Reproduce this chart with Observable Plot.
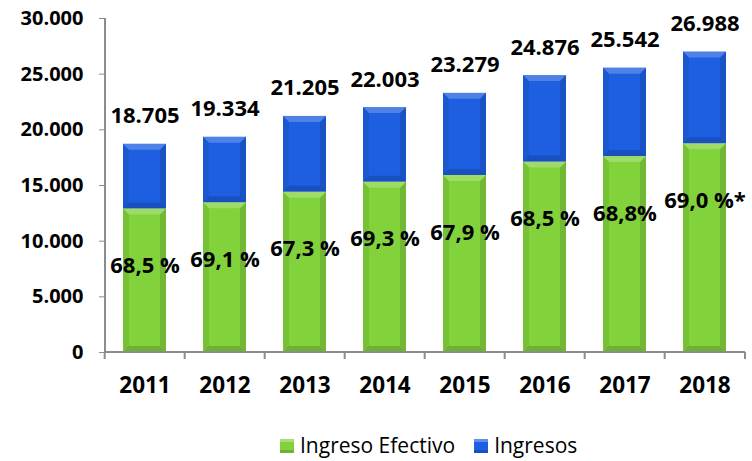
<!DOCTYPE html>
<html>
<head>
<meta charset="utf-8">
<script src="https://cdn.jsdelivr.net/npm/d3@7"></script>
<script src="https://cdn.jsdelivr.net/npm/@observablehq/plot@0.6"></script>
<style>
  html, body { margin: 0; padding: 0; background: #fff; }
  #wrap { width: 752px; height: 461px; position: relative; font-family: "Open Sans", sans-serif; }
  #legend { position: absolute; left: 280px; top: 431px; height: 29px; display: flex; align-items: center; font-size: 21px; color: #000; line-height: 29px; white-space: nowrap; }
  .sw { width: 14px; height: 14px; display: inline-block; margin-right: 6px; }
  .item { display: flex; align-items: center; margin-right: 19px; }
</style>
</head>
<body>
<div id="wrap"></div>
<script>
const years = ["2011", "2012", "2013", "2014", "2015", "2016", "2017", "2018"];
const ingresos = [18705, 19334, 21205, 22003, 23279, 24876, 25542, 26988];
const efectivo = [12900, 13450, 14400, 15300, 15900, 17100, 17600, 18750];
const pctLabels = ["68,5 %", "69,1 %", "67,3 %", "69,3 %", "67,9 %", "68,5 %", "68,8%", "69,0 %*"];
const yTicks = [0, 5000, 10000, 15000, 20000, 25000, 30000];
const seriesNames = ["Ingreso Efectivo", "Ingresos"];
const seriesColors = ["#82d23c", "#1e5fe1"];

const loc = d3.formatLocale({decimal: ",", thousands: ".", grouping: [3], currency: ["", ""]});
const fmt = loc.format(",d");

const rows = years.map((y, i) => ({year: y, total: ingresos[i], ef: efectivo[i], pct: pctLabels[i]}));

const FONT = "Open Sans, sans-serif";
const plot = Plot.plot({
  width: 752,
  height: 420,
  marginLeft: 105,
  marginRight: 7,
  marginTop: 18,
  marginBottom: 68,
  style: {fontFamily: FONT, color: "#000", background: "#fff", overflow: "visible", display: "block"},
  x: {type: "band", domain: years, paddingInner: 0.46, paddingOuter: 0.23, label: null},
  y: {domain: [0, 30000], label: null},
  marks: [
    Plot.barY(rows, {x: "year", y1: 0, y2: "ef", fill: seriesColors[0]}),
    Plot.barY(rows, {x: "year", y1: "ef", y2: "total", fill: seriesColors[1]}),
    Plot.axisY({ticks: yTicks, tickSize: 6, tickPadding: 16, tickFormat: fmt, fontSize: 20, fontWeight: "bold", stroke: "#8c8c8c", label: null}),
    Plot.axisX({tickSize: 0, tickPadding: 25, fontSize: 22.5, fontWeight: "bold", label: null}),
    Plot.text(rows, {x: "year", y: "total", text: d => fmt(d.total), dy: -28, fontSize: 22, fontWeight: "bold", fill: "#000"}),
    Plot.text(rows, {x: "year", y: "ef", text: "pct", dy: 57, fontSize: 22, fontWeight: "bold", fill: "#000"})
  ]
});

const svg = d3.select(plot);
const xs = plot.scale("x");
const ys = plot.scale("y");
const bw = xs.bandwidth;
const step = bw / (1 - 0.46);
const x0 = xs.range[0], x1 = xs.range[1];
const yb = ys.apply(0), yt = ys.apply(30000);

// bevel overlays on bars
svg.selectAll('g[aria-label="bar"] rect').each(function() {
  const r = d3.select(this);
  const x = +r.attr("x"), y = +r.attr("y"), w = +r.attr("width"), h = +r.attr("height");
  const b = Math.min(6, h / 2);
  const g = d3.select(this.parentNode);
  const poly = (pts, fill, op) => g.append("polygon").attr("points", pts.map(p => p.join(",")).join(" ")).attr("fill", fill).attr("fill-opacity", op);
  poly([[x, y], [x + w, y], [x + w - b, y + b], [x + b, y + b]], "#fff", 0.22);
  poly([[x, y + h], [x + w, y + h], [x + w - b, y + h - b], [x + b, y + h - b]], "#000", 0.15);
  poly([[x, y], [x + b, y + b], [x + b, y + h - b], [x, y + h]], "#000", 0.08);
  poly([[x + w, y], [x + w - b, y + b], [x + w - b, y + h - b], [x + w, y + h]], "#000", 0.12);
});

// axis lines
const axes = svg.append("g").attr("stroke", "#8c8c8c").attr("stroke-width", 2);
axes.append("line").attr("x1", x0).attr("x2", x0).attr("y1", yt).attr("y2", yb);
axes.append("line").attr("x1", x0).attr("x2", x1).attr("y1", yb).attr("y2", yb);
years.forEach((yr, i) => {
  const bx = xs.apply(yr) + bw / 2 - step / 2;
  axes.append("line").attr("x1", bx).attr("x2", bx).attr("y1", yb).attr("y2", yb + 7);
});
axes.append("line").attr("x1", x1).attr("x2", x1).attr("y1", yb).attr("y2", yb + 7);

const wrap = document.getElementById("wrap");
wrap.appendChild(plot);

const legend = document.createElement("div");
legend.id = "legend";
seriesNames.forEach((n, i) => {
  const it = document.createElement("div");
  it.className = "item";
  const sw = document.createElement("span");
  sw.className = "sw";
  sw.style.background = seriesColors[i];
  sw.style.boxShadow = "inset 0 3px 0 rgba(255,255,255,0.3), inset 0 -3px 0 rgba(0,0,0,0.15)";
  const t = document.createElement("span");
  t.textContent = n;
  it.appendChild(sw); it.appendChild(t);
  legend.appendChild(it);
});
wrap.appendChild(legend);
</script>
</body>
</html>
